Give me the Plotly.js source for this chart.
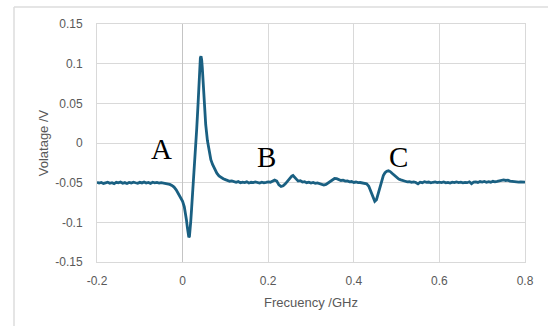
<!DOCTYPE html>
<html>
<head>
<meta charset="utf-8">
<script src="https://cdn.plot.ly/plotly-3.0.1.min.js"></script>
<style>
html,body{margin:0;padding:0;background:#fff;}
#chart{width:548px;height:326px;}
</style>
</head>
<body>
<div id="chart"></div>
<script>
// Frequency (GHz)
const freq = [
-0.200,-0.195,-0.190,-0.185,-0.180,-0.175,-0.170,-0.165,-0.160,-0.155,
-0.150,-0.145,-0.140,-0.135,-0.130,-0.125,-0.120,-0.115,-0.110,-0.105,
-0.100,-0.095,-0.090,-0.085,-0.080,-0.075,-0.070,-0.065,-0.060,-0.055,
-0.050,-0.045,-0.040,-0.035,-0.030,-0.025,-0.020,-0.015,-0.010,-0.005,
0.000,0.004,0.007,0.009,0.011,0.013,0.0145,0.016,0.0175,0.019,
0.021,0.025,0.029,0.033,0.036,0.0385,0.040,0.0415,0.0430,0.0445,
0.046,0.048,0.050,0.054,0.058,
0.062,0.066,0.070,0.075,0.080,0.085,0.090,0.095,0.100,0.105,
0.110,0.115,0.120,0.125,0.130,0.135,0.140,0.145,0.150,0.155,
0.160,0.165,0.170,0.175,0.180,0.185,0.190,0.195,0.200,0.205,
0.210,0.215,0.220,0.225,0.230,0.235,0.240,0.245,0.250,0.255,
0.258,0.262,0.266,0.270,0.275,0.280,0.285,0.290,0.295,0.300,
0.305,0.310,0.315,0.320,0.325,0.330,0.335,0.340,0.345,0.350,
0.355,0.360,0.365,0.370,0.375,0.380,0.385,0.390,0.395,0.400,
0.405,0.410,0.415,0.420,0.425,0.430,0.435,0.440,0.445,0.449,
0.453,0.457,0.461,0.465,0.469,0.473,0.477,0.481,0.485,0.490,
0.495,0.500,0.505,0.510,0.515,0.520,0.525,0.530,0.535,0.540,
0.545,0.550,0.555,0.560,0.565,0.570,0.575,0.580,0.585,0.590,
0.595,0.600,0.605,0.610,0.615,0.620,0.625,0.630,0.635,0.640,
0.645,0.650,0.655,0.660,0.665,0.670,0.675,0.680,0.685,0.690,
0.695,0.700,0.705,0.710,0.715,0.720,0.725,0.730,0.735,0.740,
0.745,0.750,0.755,0.760,0.765,0.770,0.775,0.780,0.785,0.790,
0.795,0.800
];
// Voltage (V)
const voltage = [
-0.0495,-0.0505,-0.0498,-0.0510,-0.0502,-0.0494,-0.0508,-0.0500,-0.0512,-0.0496,
-0.0503,-0.0492,-0.0507,-0.0499,-0.0510,-0.0497,-0.0504,-0.0493,-0.0501,-0.0508,
-0.0496,-0.0503,-0.0491,-0.0505,-0.0498,-0.0509,-0.0495,-0.0502,-0.0497,-0.0506,
-0.0499,-0.0504,-0.0508,-0.0512,-0.0522,-0.0535,-0.0556,-0.0590,-0.0635,-0.0680,
-0.0735,-0.0805,-0.0890,-0.0970,-0.1060,-0.1145,-0.1190,-0.1175,-0.1100,-0.0990,
-0.0830,-0.0520,-0.0190,0.0180,0.0480,0.0780,0.0960,0.1070,0.1095,0.1050,
0.0950,0.0760,0.0540,0.0230,0.0030,
-0.0120,-0.0210,-0.0270,-0.0330,-0.0380,-0.0415,-0.0435,-0.0450,-0.0462,-0.0470,
-0.0482,-0.0478,-0.0490,-0.0496,-0.0487,-0.0502,-0.0493,-0.0499,-0.0490,-0.0504,
-0.0495,-0.0500,-0.0491,-0.0498,-0.0505,-0.0494,-0.0501,-0.0496,-0.0490,-0.0494,
-0.0478,-0.0468,-0.0480,-0.0528,-0.0548,-0.0540,-0.0515,-0.0478,-0.0442,-0.0418,
-0.0410,-0.0430,-0.0458,-0.0480,-0.0475,-0.0492,-0.0488,-0.0500,-0.0494,-0.0505,
-0.0498,-0.0508,-0.0502,-0.0512,-0.0520,-0.0530,-0.0522,-0.0505,-0.0482,-0.0462,
-0.0448,-0.0450,-0.0460,-0.0472,-0.0468,-0.0480,-0.0478,-0.0490,-0.0486,-0.0497,
-0.0492,-0.0500,-0.0498,-0.0503,-0.0505,-0.0515,-0.0545,-0.0610,-0.0690,-0.0735,
-0.0715,-0.0640,-0.0550,-0.0470,-0.0410,-0.0375,-0.0355,-0.0350,-0.0360,-0.0385,
-0.0410,-0.0432,-0.0455,-0.0465,-0.0478,-0.0482,-0.0490,-0.0486,-0.0495,-0.0490,
-0.0498,-0.0515,-0.0494,-0.0500,-0.0488,-0.0497,-0.0492,-0.0502,-0.0495,-0.0490,
-0.0499,-0.0493,-0.0498,-0.0490,-0.0502,-0.0496,-0.0505,-0.0494,-0.0500,-0.0491,
-0.0498,-0.0493,-0.0503,-0.0496,-0.0500,-0.0489,-0.0512,-0.0493,-0.0490,-0.0497,
-0.0486,-0.0492,-0.0485,-0.0495,-0.0488,-0.0494,-0.0483,-0.0490,-0.0485,-0.0478,
-0.0470,-0.0465,-0.0472,-0.0468,-0.0480,-0.0485,-0.0490,-0.0486,-0.0493,-0.0489,
-0.0495,-0.0492
];
// Tick labels
const xTickVals = [-0.2, 0, 0.2, 0.4, 0.6, 0.8];
const xTickText = ["-0.2", "0", "0.2", "0.4", "0.6", "0.8"];
const yTickVals = [-0.15, -0.1, -0.05, 0, 0.05, 0.1, 0.15];
const yTickText = ["-0.15", "-0.1", "-0.05", "0", "0.05", "0.1", "0.15"];
// Peak labels
const peakLabels = ["A", "B", "C"];
const peakLabelX = [-0.049, 0.195, 0.505];
const peakLabelY = [-0.0077, -0.0178, -0.0178];

const gridColor = "#d9d9d9";
const textColor = "#595959";
const fontFam = "Liberation Sans, Arial, sans-serif";

const trace = {
  x: freq, y: voltage, type: "scatter", mode: "lines",
  line: {color: "#1a6082", width: 2.8},
  hoverinfo: "skip", showlegend: false
};

const annotations = peakLabels.map((t, i) => ({
  x: peakLabelX[i], y: peakLabelY[i], xref: "x", yref: "y",
  text: t, showarrow: false, xanchor: "center", yanchor: "middle",
  font: {family: "Liberation Serif, Times New Roman, serif", size: 29, color: "#000"}
}));

const x0 = 97, x1 = 525, y0 = 24, y1 = 262;
const pw = x1 - x0, ph = y1 - y0;
const px = v => (v - x0) / pw;
const py = v => (y1 - v) / ph;

const layout = {
  width: 548, height: 326,
  margin: {l: x0, r: 548 - x1, t: y0, b: 326 - y1, pad: 0},
  paper_bgcolor: "#fff", plot_bgcolor: "#fff",
  showlegend: false,
  xaxis: {
    range: [-0.2, 0.8], tickmode: "array", tickvals: xTickVals, ticktext: xTickText,
    showgrid: true, gridcolor: gridColor, gridwidth: 1,
    zeroline: true, zerolinecolor: "#c4c4c4", zerolinewidth: 1.3,
    showline: true, linecolor: gridColor, linewidth: 1, mirror: true,
    ticks: "", ticklabelstandoff: 8,
    tickfont: {family: fontFam, size: 12, color: textColor},
    title: {text: "Frecuency /GHz", font: {family: fontFam, size: 13, color: textColor}, standoff: 10},
    automargin: false, fixedrange: true
  },
  yaxis: {
    range: [-0.15, 0.15], tickmode: "array", tickvals: yTickVals, ticktext: yTickText,
    showgrid: true, gridcolor: gridColor, gridwidth: 1,
    zeroline: false,
    showline: true, linecolor: gridColor, linewidth: 1, mirror: true,
    ticks: "", ticklabelstandoff: 11,
    tickfont: {family: fontFam, size: 12, color: textColor},
    title: {text: "Volatage /V", font: {family: fontFam, size: 13, color: textColor}, standoff: 3},
    automargin: false, fixedrange: true
  },
  annotations: annotations,
  shapes: [
    {type: "line", xref: "paper", yref: "paper", x0: px(14), x1: px(560), y0: py(7), y1: py(7),
     line: {color: "#dcdcdc", width: 1.5}},
    {type: "line", xref: "paper", yref: "paper", x0: px(14), x1: px(14), y0: py(7), y1: py(340),
     line: {color: "#dcdcdc", width: 1.5}}
  ]
};

Plotly.newPlot("chart", [trace], layout, {staticPlot: true, displayModeBar: false});
</script>
</body>
</html>
